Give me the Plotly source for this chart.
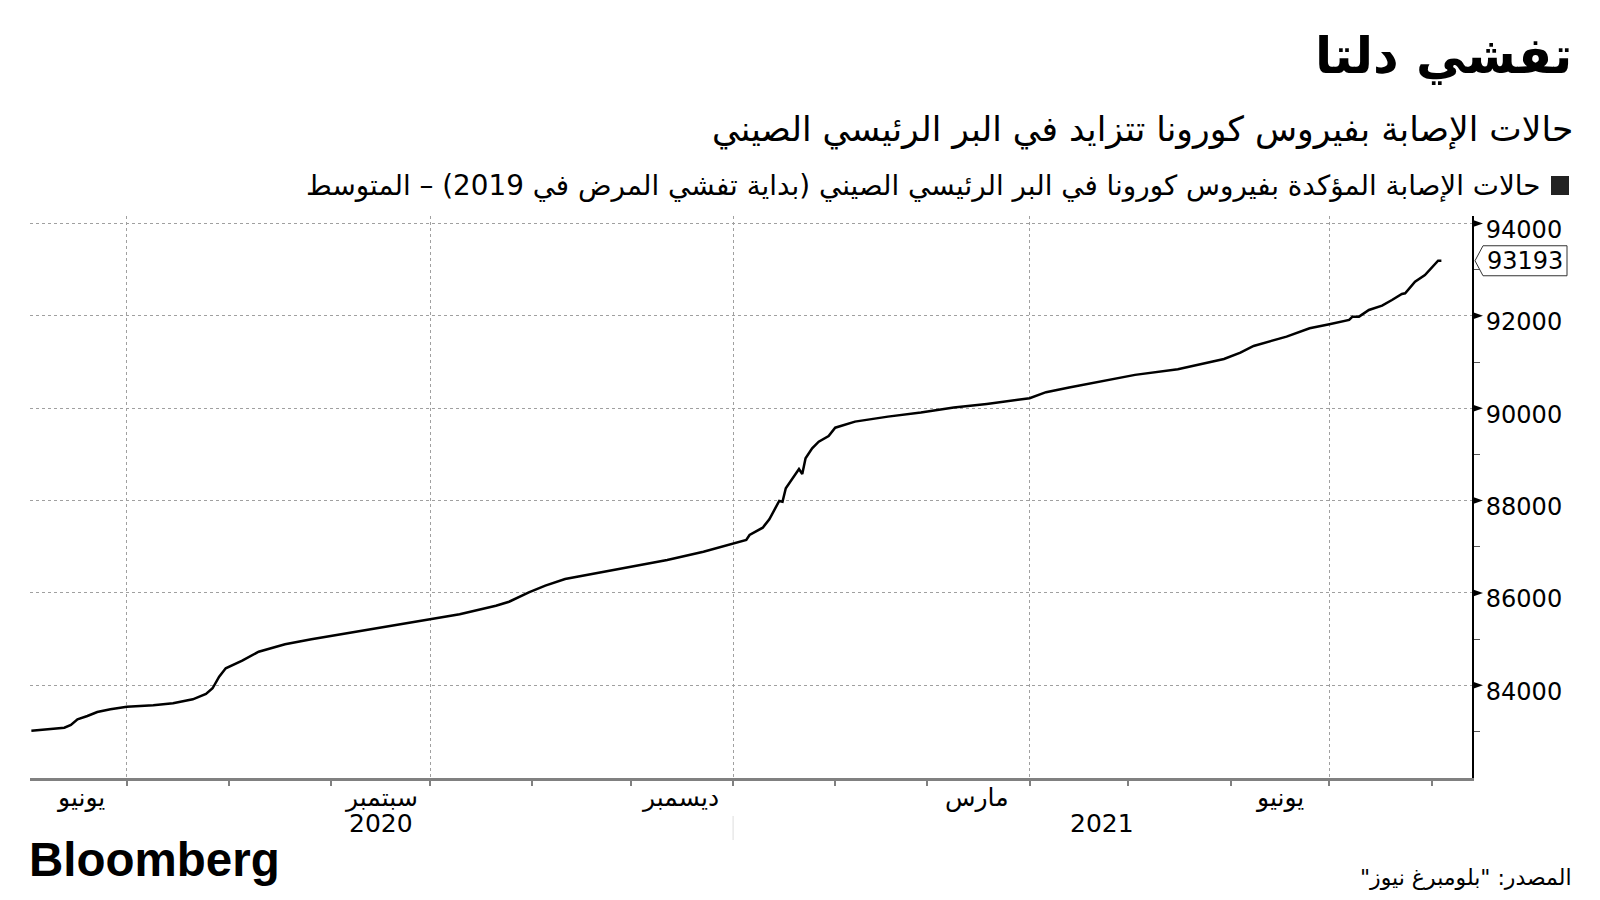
import plotly.graph_objects as go

# ---------------- data ----------------
dates = [
    "2020-06-02", "2020-06-07", "2020-06-12", "2020-06-14", "2020-06-16", "2020-06-19",
    "2020-06-22", "2020-06-26", "2020-07-01", "2020-07-09", "2020-07-15", "2020-07-21",
    "2020-07-25", "2020-07-27", "2020-07-29", "2020-07-31", "2020-08-05", "2020-08-10",
    "2020-08-18", "2020-08-26", "2020-09-04", "2020-09-13", "2020-09-21", "2020-10-01",
    "2020-10-10", "2020-10-21", "2020-10-25", "2020-10-31", "2020-11-05", "2020-11-11",
    "2020-11-21", "2020-12-02", "2020-12-12", "2020-12-23", "2021-01-01", "2021-01-05",
    "2021-01-06", "2021-01-10", "2021-01-12", "2021-01-15", "2021-01-16", "2021-01-17",
    "2021-01-21", "2021-01-22", "2021-01-23", "2021-01-25", "2021-01-27", "2021-01-30",
    "2021-02-01", "2021-02-03", "2021-02-07", "2021-02-17", "2021-02-27", "2021-03-09",
    "2021-03-19", "2021-04-01", "2021-04-06", "2021-04-13", "2021-04-23", "2021-05-03",
    "2021-05-16", "2021-05-24", "2021-05-30", "2021-06-04", "2021-06-08", "2021-06-18",
    "2021-06-25", "2021-07-01", "2021-07-07", "2021-07-08", "2021-07-10", "2021-07-13",
    "2021-07-17", "2021-07-20", "2021-07-23", "2021-07-24", "2021-07-27", "2021-07-30",
    "2021-08-01", "2021-08-03", "2021-08-04",
]
cases = [
    83017, 83047, 83082, 83140, 83264, 83335,
    83422, 83480, 83537, 83567, 83610, 83697,
    83812, 83935, 84186, 84368, 84533, 84728,
    84888, 84996, 85104, 85197, 85306, 85414,
    85537, 85724, 85810, 86014, 86157, 86302,
    86438, 86583, 86713, 86893, 87075, 87147,
    87255, 87413, 87595, 87991, 87976, 88266,
    88684, 88576, 88916, 89132, 89275, 89399,
    89578, 89621, 89710, 89818, 89905, 90013,
    90093, 90217, 90347, 90447, 90592, 90722,
    90845, 90973, 91067, 91203, 91348, 91550,
    91732, 91818, 91911, 91983, 91983, 92128,
    92221, 92344, 92474, 92489, 92740, 92885,
    93030, 93193, 93193,
]
last_value = 93193

y_ticks = [84000, 86000, 88000, 90000, 92000, 94000]
y_minor = [83000, 85000, 87000, 89000, 91000, 93000]
quarter_starts = ["2020-07-01", "2020-10-01", "2021-01-01", "2021-04-01", "2021-07-01"]
month_starts = ["2020-07-01", "2020-08-01", "2020-09-01", "2020-10-01", "2020-11-01",
                "2020-12-01", "2021-01-01", "2021-02-01", "2021-03-01", "2021-04-01",
                "2021-05-01", "2021-06-01", "2021-07-01", "2021-08-01"]
month_label_dates = ["2020-06-17", "2020-09-16", "2020-12-16", "2021-03-16", "2021-06-16"]
month_labels = ["يونيو", "سبتمبر", "ديسمبر", "مارس", "يونيو"]
year_label_dates = ["2020-09-16", "2021-04-23"]
year_labels = ["2020", "2021"]
year_break = "2021-01-01"

title = "تفشي دلتا"
subtitle = "حالات الإصابة بفيروس كورونا تتزايد في البر الرئيسي الصيني"
legend_text = "حالات الإصابة المؤكدة بفيروس كورونا في البر الرئيسي الصيني (بداية تفشي المرض في 2019) – المتوسط"
source_text = "المصدر: \"بلومبرغ نيوز\"\u200f"

# ---------------- layout geometry ----------------
W, H = 1600, 900
L, R, T, B = 30, 128, 216, 122
PW, PH = W - L - R, H - T - B


def xp(px):
    return (px - L) / PW


def yp(py):
    return (H - B - py) / PH


FONT = "DejaVu Sans"

fig = go.Figure()
fig.add_trace(go.Scatter(
    x=dates, y=cases, mode="lines",
    line=dict(color="#000000", width=2.5),
    hoverinfo="skip", showlegend=False,
))

fig.update_layout(
    width=W, height=H,
    margin=dict(l=L, r=R, t=T, b=B, pad=0),
    paper_bgcolor="white", plot_bgcolor="white",
    showlegend=False,
    font=dict(family=FONT, color="#000000"),
    xaxis=dict(
        type="date",
        range=["2020-06-01 14:00", "2021-08-13 07:00"],
        tickmode="array", tickvals=quarter_starts, ticktext=["" for _ in quarter_starts],
        showticklabels=False,
        ticks="outside", ticklen=5, tickwidth=1.5, tickcolor="#808080",
        showgrid=True, gridcolor="#a0a0a0", griddash="dot", gridwidth=1,
        showline=True, linecolor="#808080", linewidth=2.5,
        minor=dict(tickmode="array", tickvals=month_starts, ticks="outside",
                   ticklen=5, tickwidth=1.5, tickcolor="#808080", showgrid=False),
        zeroline=False,
    ),
    yaxis=dict(
        side="right",
        range=[81993, 94162],
        tickmode="array", tickvals=y_ticks, ticktext=[str(v) for v in y_ticks],
        ticks="", ticklabelstandoff=7, ticklabelshift=6,
        tickfont=dict(family=FONT, size=24, color="#000000"),
        showgrid=True, gridcolor="#a0a0a0", griddash="dot", gridwidth=1,
        showline=True, linecolor="#000000", linewidth=2,
        minor=dict(tickmode="array", tickvals=y_minor, ticks="outside",
                   ticklen=6, tickwidth=1.2, tickcolor="#555555", showgrid=False),
        zeroline=False,
    ),
)

shapes = []
# triangle markers on the major y ticks
for v in y_ticks:
    shapes.append(dict(
        type="path", xref="paper", yref="y", xsizemode="pixel", ysizemode="pixel",
        xanchor=1, yanchor=v, path="M 1,3.5 L 11,0 L 1,-3.5 Z",
        fillcolor="#000000", line=dict(width=0),
    ))
# last-value callout box
shapes.append(dict(
    type="path", xref="paper", yref="y", xsizemode="pixel", ysizemode="pixel",
    xanchor=1, yanchor=last_value,
    path="M 3,0 L 11,15 L 95,15 L 95,-15 L 11,-15 Z",
    fillcolor="white", line=dict(color="#333333", width=1),
))
# year separator under the axis
shapes.append(dict(
    type="line", xref="x", yref="paper", x0=year_break, x1=year_break,
    y0=yp(816), y1=yp(840), line=dict(color="#dddddd", width=1),
))
# legend square
shapes.append(dict(
    type="rect", xref="paper", yref="paper",
    x0=xp(1551), x1=xp(1569), y0=yp(195), y1=yp(176),
    fillcolor="#222222", line=dict(width=0),
))
fig.update_layout(shapes=shapes)

ann = []
ann.append(dict(xref="paper", yref="y", x=1, y=last_value, xshift=13, xanchor="left",
                yanchor="middle", text=str(last_value), showarrow=False,
                font=dict(family=FONT, size=24, color="#000000")))
for d, t in zip(month_label_dates, month_labels):
    ann.append(dict(xref="x", yref="paper", x=d, y=yp(797), xanchor="center",
                    yanchor="middle", text=t, showarrow=False,
                    font=dict(family=FONT, size=25, color="#000000")))
for d, t in zip(year_label_dates, year_labels):
    ann.append(dict(xref="x", yref="paper", x=d, y=yp(823), xanchor="center",
                    yanchor="middle", text=t, showarrow=False,
                    font=dict(family=FONT, size=25, color="#000000")))
ann.append(dict(xref="paper", yref="paper", x=xp(1574), y=yp(56), xanchor="right",
                yanchor="middle", text="<b>" + title + "</b>", showarrow=False,
                font=dict(family=FONT, size=50, color="#000000")))
ann.append(dict(xref="paper", yref="paper", x=xp(1575), y=yp(129), xanchor="right",
                yanchor="middle", text=subtitle, showarrow=False,
                font=dict(family=FONT, size=34.5, color="#000000")))
ann.append(dict(xref="paper", yref="paper", x=xp(1542), y=yp(185), xanchor="right",
                yanchor="middle", text=legend_text, showarrow=False,
                font=dict(family=FONT, size=27.8, color="#000000")))
ann.append(dict(xref="paper", yref="paper", x=xp(27), y=yp(859), xanchor="left",
                yanchor="middle", text="<b>Bloomberg</b>", showarrow=False,
                font=dict(family="Liberation Sans", size=47.5, color="#000000")))
ann.append(dict(xref="paper", yref="paper", x=xp(1574), y=yp(877), xanchor="right",
                yanchor="middle", text=source_text, showarrow=False,
                font=dict(family=FONT, size=22, color="#000000")))
fig.update_layout(annotations=ann)

fig.write_html("out.html")
